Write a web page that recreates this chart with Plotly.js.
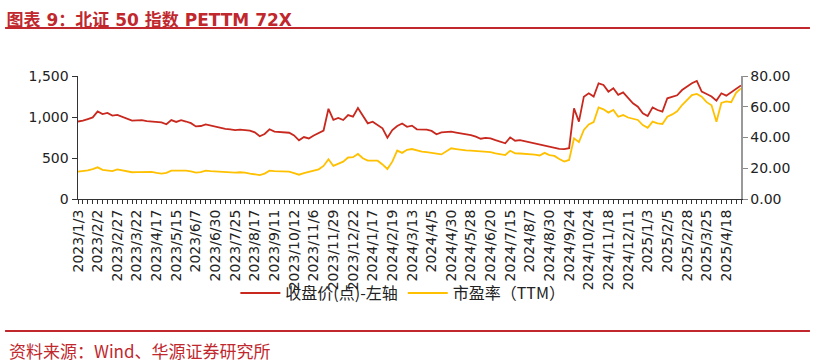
<!DOCTYPE html>
<html>
<head>
<meta charset="utf-8">
<script src="https://cdn.plot.ly/plotly-3.0.1.min.js"></script>
<style>
html,body{margin:0;padding:0;background:#fff;}
#chart{width:815px;height:364px;}
</style>
</head>
<body>
<div id="chart"></div>
<script>
// Trading dates (sampled) used as categories
const dates = [
"2023/1/3","2023/1/9","2023/1/13","2023/1/19",
"2023/2/2","2023/2/8","2023/2/14","2023/2/20",
"2023/2/27","2023/3/3","2023/3/9","2023/3/15",
"2023/3/22","2023/3/28","2023/4/3","2023/4/11",
"2023/4/17","2023/4/21","2023/4/27","2023/5/9",
"2023/5/15","2023/5/19","2023/5/25","2023/6/1",
"2023/6/7","2023/6/13","2023/6/19","2023/6/27",
"2023/6/30","2023/7/6","2023/7/12","2023/7/18",
"2023/7/25","2023/7/31","2023/8/4","2023/8/10",
"2023/8/17","2023/8/23","2023/8/29","2023/9/4",
"2023/9/11","2023/9/15","2023/9/21","2023/9/27",
"2023/10/12","2023/10/18","2023/10/24","2023/10/30",
"2023/11/6","2023/11/10","2023/11/16","2023/11/22",
"2023/11/29","2023/12/5","2023/12/11","2023/12/15",
"2023/12/22","2023/12/28","2024/1/4","2024/1/10",
"2024/1/17","2024/1/23","2024/1/29","2024/2/5",
"2024/2/19","2024/2/23","2024/2/29","2024/3/6",
"2024/3/13","2024/3/19","2024/3/25","2024/3/29",
"2024/4/5","2024/4/11","2024/4/17","2024/4/23",
"2024/4/30","2024/5/10","2024/5/16","2024/5/22",
"2024/5/28","2024/6/3","2024/6/6","2024/6/14",
"2024/6/20","2024/6/26","2024/7/2","2024/7/8",
"2024/7/15","2024/7/19","2024/7/25","2024/7/31",
"2024/8/7","2024/8/13","2024/8/19","2024/8/23",
"2024/8/30","2024/9/5","2024/9/11","2024/9/18",
"2024/9/24","2024/9/30","2024/10/14","2024/10/18",
"2024/10/24","2024/10/30","2024/11/5","2024/11/11",
"2024/11/18","2024/11/22","2024/11/28","2024/12/4",
"2024/12/11","2024/12/17","2024/12/23","2024/12/27",
"2025/1/3","2025/1/9","2025/1/15","2025/1/21",
"2025/2/5","2025/2/11","2025/2/17","2025/2/21",
"2025/2/28","2025/3/6","2025/3/12","2025/3/18",
"2025/3/25","2025/3/31","2025/4/8","2025/4/14",
"2025/4/18","2025/4/24","2025/4/30","2025/5/9"
];

// Labelled tick dates
const tickLabels = [
"2023/1/3","2023/2/2","2023/2/27","2023/3/22","2023/4/17","2023/5/15","2023/6/7","2023/6/30",
"2023/7/25","2023/8/17","2023/9/11","2023/10/12","2023/11/6","2023/11/29","2023/12/22",
"2024/1/17","2024/2/19","2024/3/13","2024/4/5","2024/4/30","2024/5/28","2024/6/20","2024/7/15",
"2024/8/7","2024/8/30","2024/9/24","2024/10/24","2024/11/18","2024/12/11",
"2025/1/3","2025/2/5","2025/2/28","2025/3/25","2025/4/18"
];

// 收盘价(点) - left axis
const closePrice = [
945,955,975,995,1068,1035,1050,1018,1025,1000,
975,955,960,962,950,943,940,935,912,962,
940,962,945,925,885,890,910,895,882,868,
854,848,841,845,840,835,813,765,793,850,
821,818,812,808,775,715,755,738,775,810,
835,1100,965,988,963,1024,1004,1110,1024,923,
943,902,862,748,840,890,920,880,895,850,
845,846,830,790,812,818,821,810,801,792,
780,760,735,745,740,718,700,680,752,711,
718,705,688,680,671,655,638,625,612,608,
620,1106,943,1248,1290,1250,1411,1390,1309,1350,
1270,1300,1230,1167,1126,1045,1012,1117,1085,1065,
1228,1250,1265,1329,1370,1411,1440,1309,1280,1250,
1200,1289,1260,1300,1350,1385
];

// 市盈率(TTM) - right axis
const peTTM = [
17.8,18.2,18.6,19.5,20.6,19.0,18.6,18.2,19.3,18.8,
18.0,17.4,17.5,17.6,17.8,17.6,17.0,16.5,17.0,18.4,
18.4,18.5,18.4,18.0,17.2,17.5,18.4,18.1,17.9,17.7,
17.4,17.2,17.2,17.4,17.2,16.5,16.0,15.6,16.5,18.4,
18.1,18.0,17.9,17.8,16.8,15.8,16.8,17.8,18.6,19.3,
21.5,25.8,21.5,23.0,24.3,27.0,27.2,29.3,26.5,25.0,
24.9,24.9,22.5,19.5,24.3,31.5,30.0,32.0,32.5,31.5,
30.8,30.5,30.2,29.5,29.0,31.0,33.0,32.5,31.9,31.6,
31.4,31.2,31.0,30.8,30.5,29.6,29.1,28.6,31.4,29.7,
29.6,29.4,29.3,28.8,28.3,30.0,28.5,28.0,26.0,24.3,
25.4,39.5,37.0,44.9,48.5,50.0,59.5,58.3,56.2,57.9,
53.5,54.6,53.0,52.2,51.4,48.1,46.3,50.3,49.2,48.8,
53.5,55.0,57.0,61.1,64.4,67.6,68.3,66.5,63.0,61.0,
50.3,62.5,63.5,63.0,69.0,72.0
];

const seriesNames = ["收盘价(点)-左轴", "市盈率（TTM）"];
const titleText = "图表 9：北证 50 指数 PETTM 72X";
const sourceText = "资料来源：Wind、华源证券研究所";

const tickText = dates.map(d => tickLabels.includes(d) ? d : "");

const RED = "#C8281E";
const YEL = "#FFC000";
const BRAND = "#C0282E";
const FONT = "DejaVu Sans, Noto Sans CJK SC, sans-serif";

const traces = [
  {x: dates, y: closePrice, type: "scatter", mode: "lines", name: seriesNames[0],
   line: {color: RED, width: 1.8}, yaxis: "y"},
  {x: dates, y: peTTM, type: "scatter", mode: "lines", name: seriesNames[1],
   line: {color: YEL, width: 1.8}, yaxis: "y2"}
];

const layout = {
  width: 815, height: 364,
  margin: {l: 78, r: 74, t: 76, b: 165, pad: 0},
  paper_bgcolor: "#fff", plot_bgcolor: "#fff",
  font: {family: FONT, size: 14, color: "#222"},
  showlegend: true,
  title: {text: "<b>" + titleText + "</b>", x: 0.008, xanchor: "left", xref: "container",
          y: 0.945, yanchor: "middle", yref: "container",
          font: {family: "DejaVu Sans, Noto Sans CJK SC, sans-serif", size: 17, color: BRAND}},
  xaxis: {
    type: "category", range: [0, dates.length - 1],
    tickmode: "array", tickvals: dates, ticktext: tickText,
    tickangle: -90, ticks: "outside", ticklen: 4, tickcolor: "#333", tickwidth: 1,
    showline: true, linecolor: "#333", linewidth: 1,
    showgrid: false, zeroline: false,
    tickfont: {family: FONT, size: 14, color: "#222"}
  },
  yaxis: {
    range: [0, 1500], dtick: 500, tick0: 0, tickformat: ",",
    ticks: "outside", ticklen: 5, tickcolor: "#333",
    showline: true, linecolor: "#333", linewidth: 1.5,
    showgrid: false, zeroline: false,
    tickfont: {family: FONT, size: 14, color: "#222"}
  },
  yaxis2: {
    range: [0, 80], dtick: 20, tick0: 0, tickformat: ".2f",
    overlaying: "y", side: "right", anchor: "x",
    ticks: "outside", ticklen: 5, tickcolor: "#888",
    showline: true, linecolor: "#999", linewidth: 1.5,
    showgrid: false, zeroline: false,
    tickfont: {family: FONT, size: 14, color: "#222"}
  },
  legend: {
    orientation: "h", x: 0.49, xanchor: "center", y: -0.765, yanchor: "middle",
    font: {family: "Noto Sans CJK SC, DejaVu Sans, sans-serif", size: 16, color: "#222"},
    bgcolor: "rgba(0,0,0,0)", itemwidth: 40, traceorder: "normal"
  },
  shapes: [
    {type: "line", xref: "paper", yref: "paper", x0: -0.110, x1: 1.104,
     y0: (199 - 28) / 123, y1: (199 - 28) / 123, line: {color: BRAND, width: 2}},
    {type: "line", xref: "paper", yref: "paper", x0: -0.110, x1: 1.104,
     y0: (199 - 331) / 123, y1: (199 - 331) / 123, line: {color: BRAND, width: 2}}
  ],
  annotations: [
    {text: sourceText, xref: "paper", yref: "paper", x: (7 - 78) / 663, y: (199 - 350) / 123,
     xanchor: "left", yanchor: "middle", showarrow: false,
     font: {family: "Noto Sans CJK SC, DejaVu Sans, sans-serif", size: 17, color: BRAND}}
  ]
};

Plotly.newPlot("chart", traces, layout, {displayModeBar: false, staticPlot: true});
</script>
</body>
</html>
